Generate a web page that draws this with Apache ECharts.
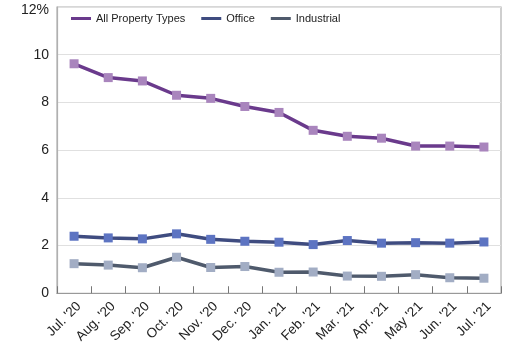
<!DOCTYPE html>
<html><head><meta charset="utf-8">
<script src="https://cdn.jsdelivr.net/npm/echarts@6/dist/echarts.min.js"></script>
<style>html,body{margin:0;padding:0;background:#fff}#c{width:508px;height:346px}</style>
</head><body><div id="c"></div>
<script>
const categories = ["Jul. '20","Aug. '20","Sep. '20","Oct. '20","Nov. '20","Dec. '20","Jan. '21","Feb. '21","Mar. '21","Apr. '21","May '21","Jun. '21","Jul. '21"];
const allProperty = [9.62, 9.04, 8.9, 8.3, 8.17, 7.83, 7.58, 6.83, 6.58, 6.5, 6.17, 6.17, 6.13];
const office = [2.39, 2.32, 2.28, 2.49, 2.26, 2.18, 2.14, 2.04, 2.21, 2.1, 2.12, 2.1, 2.15];
const industrial = [1.24, 1.18, 1.07, 1.51, 1.08, 1.12, 0.88, 0.89, 0.72, 0.71, 0.78, 0.65, 0.63];
const yTicks = [0, 2, 4, 6, 8, 10, 12];

const font = 'Liberation Sans, Arial, sans-serif';
function mk(name, data, lineColor, markColor) {
  return {
    name, type: 'line', data,
    symbol: 'rect', symbolSize: 9,
    lineStyle: { color: lineColor, width: 3.5 },
    itemStyle: { color: markColor },
    emphasis: { disabled: true }
  };
}
const chart = echarts.init(document.getElementById('c'), null, { renderer: 'canvas' });
chart.setOption({
  animation: false,
  grid: { left: 57, right: 7, top: 7, bottom: 51, show: true, borderColor: '#b0b0b0', borderWidth: 1.2 },
  legend: {
    left: 66, top: 8, itemWidth: 20, itemHeight: 3, itemGap: 16,
    textStyle: { fontFamily: font, fontSize: 11, color: '#222' },
    data: [
      { name: 'All Property Types', icon: 'rect', itemStyle: { color: '#6a3a8c' } },
      { name: 'Office', icon: 'rect', itemStyle: { color: '#3f4c80' } },
      { name: 'Industrial', icon: 'rect', itemStyle: { color: '#4f5a6c' } }
    ]
  },
  xAxis: {
    type: 'category', data: categories, boundaryGap: true,
    axisLine: { lineStyle: { color: '#999', width: 1.2 } },
    axisTick: { show: true, inside: true, length: 7, lineStyle: { color: '#777' } },
    axisLabel: { rotate: 45, fontFamily: font, fontSize: 13.5, color: '#222', margin: 6, interval: 0, verticalAlign: 'top' }
  },
  yAxis: {
    type: 'value', min: 0, max: 12, interval: 2,
    axisLine: { show: true, lineStyle: { color: '#b0b0b0', width: 1.2 } },
    axisTick: { show: false },
    splitLine: { lineStyle: { color: '#e0e0e0' } },
    axisLabel: {
      fontFamily: font, fontSize: 14, color: '#222', margin: 8,
      formatter: v => yTicks.includes(v) ? (v === 12 ? '{t|12%}' : String(v)) : '',
      rich: { t: { fontFamily: font, fontSize: 14, color: '#222', padding: [6, 0, 0, 0] } }
    }
  },
  series: [
    mk('All Property Types', allProperty, '#6a3a8c', '#a985bd'),
    mk('Office', office, '#3f4c80', '#5d74c2'),
    mk('Industrial', industrial, '#4f5a6c', '#a2adc4')
  ]
});
</script></body></html>
